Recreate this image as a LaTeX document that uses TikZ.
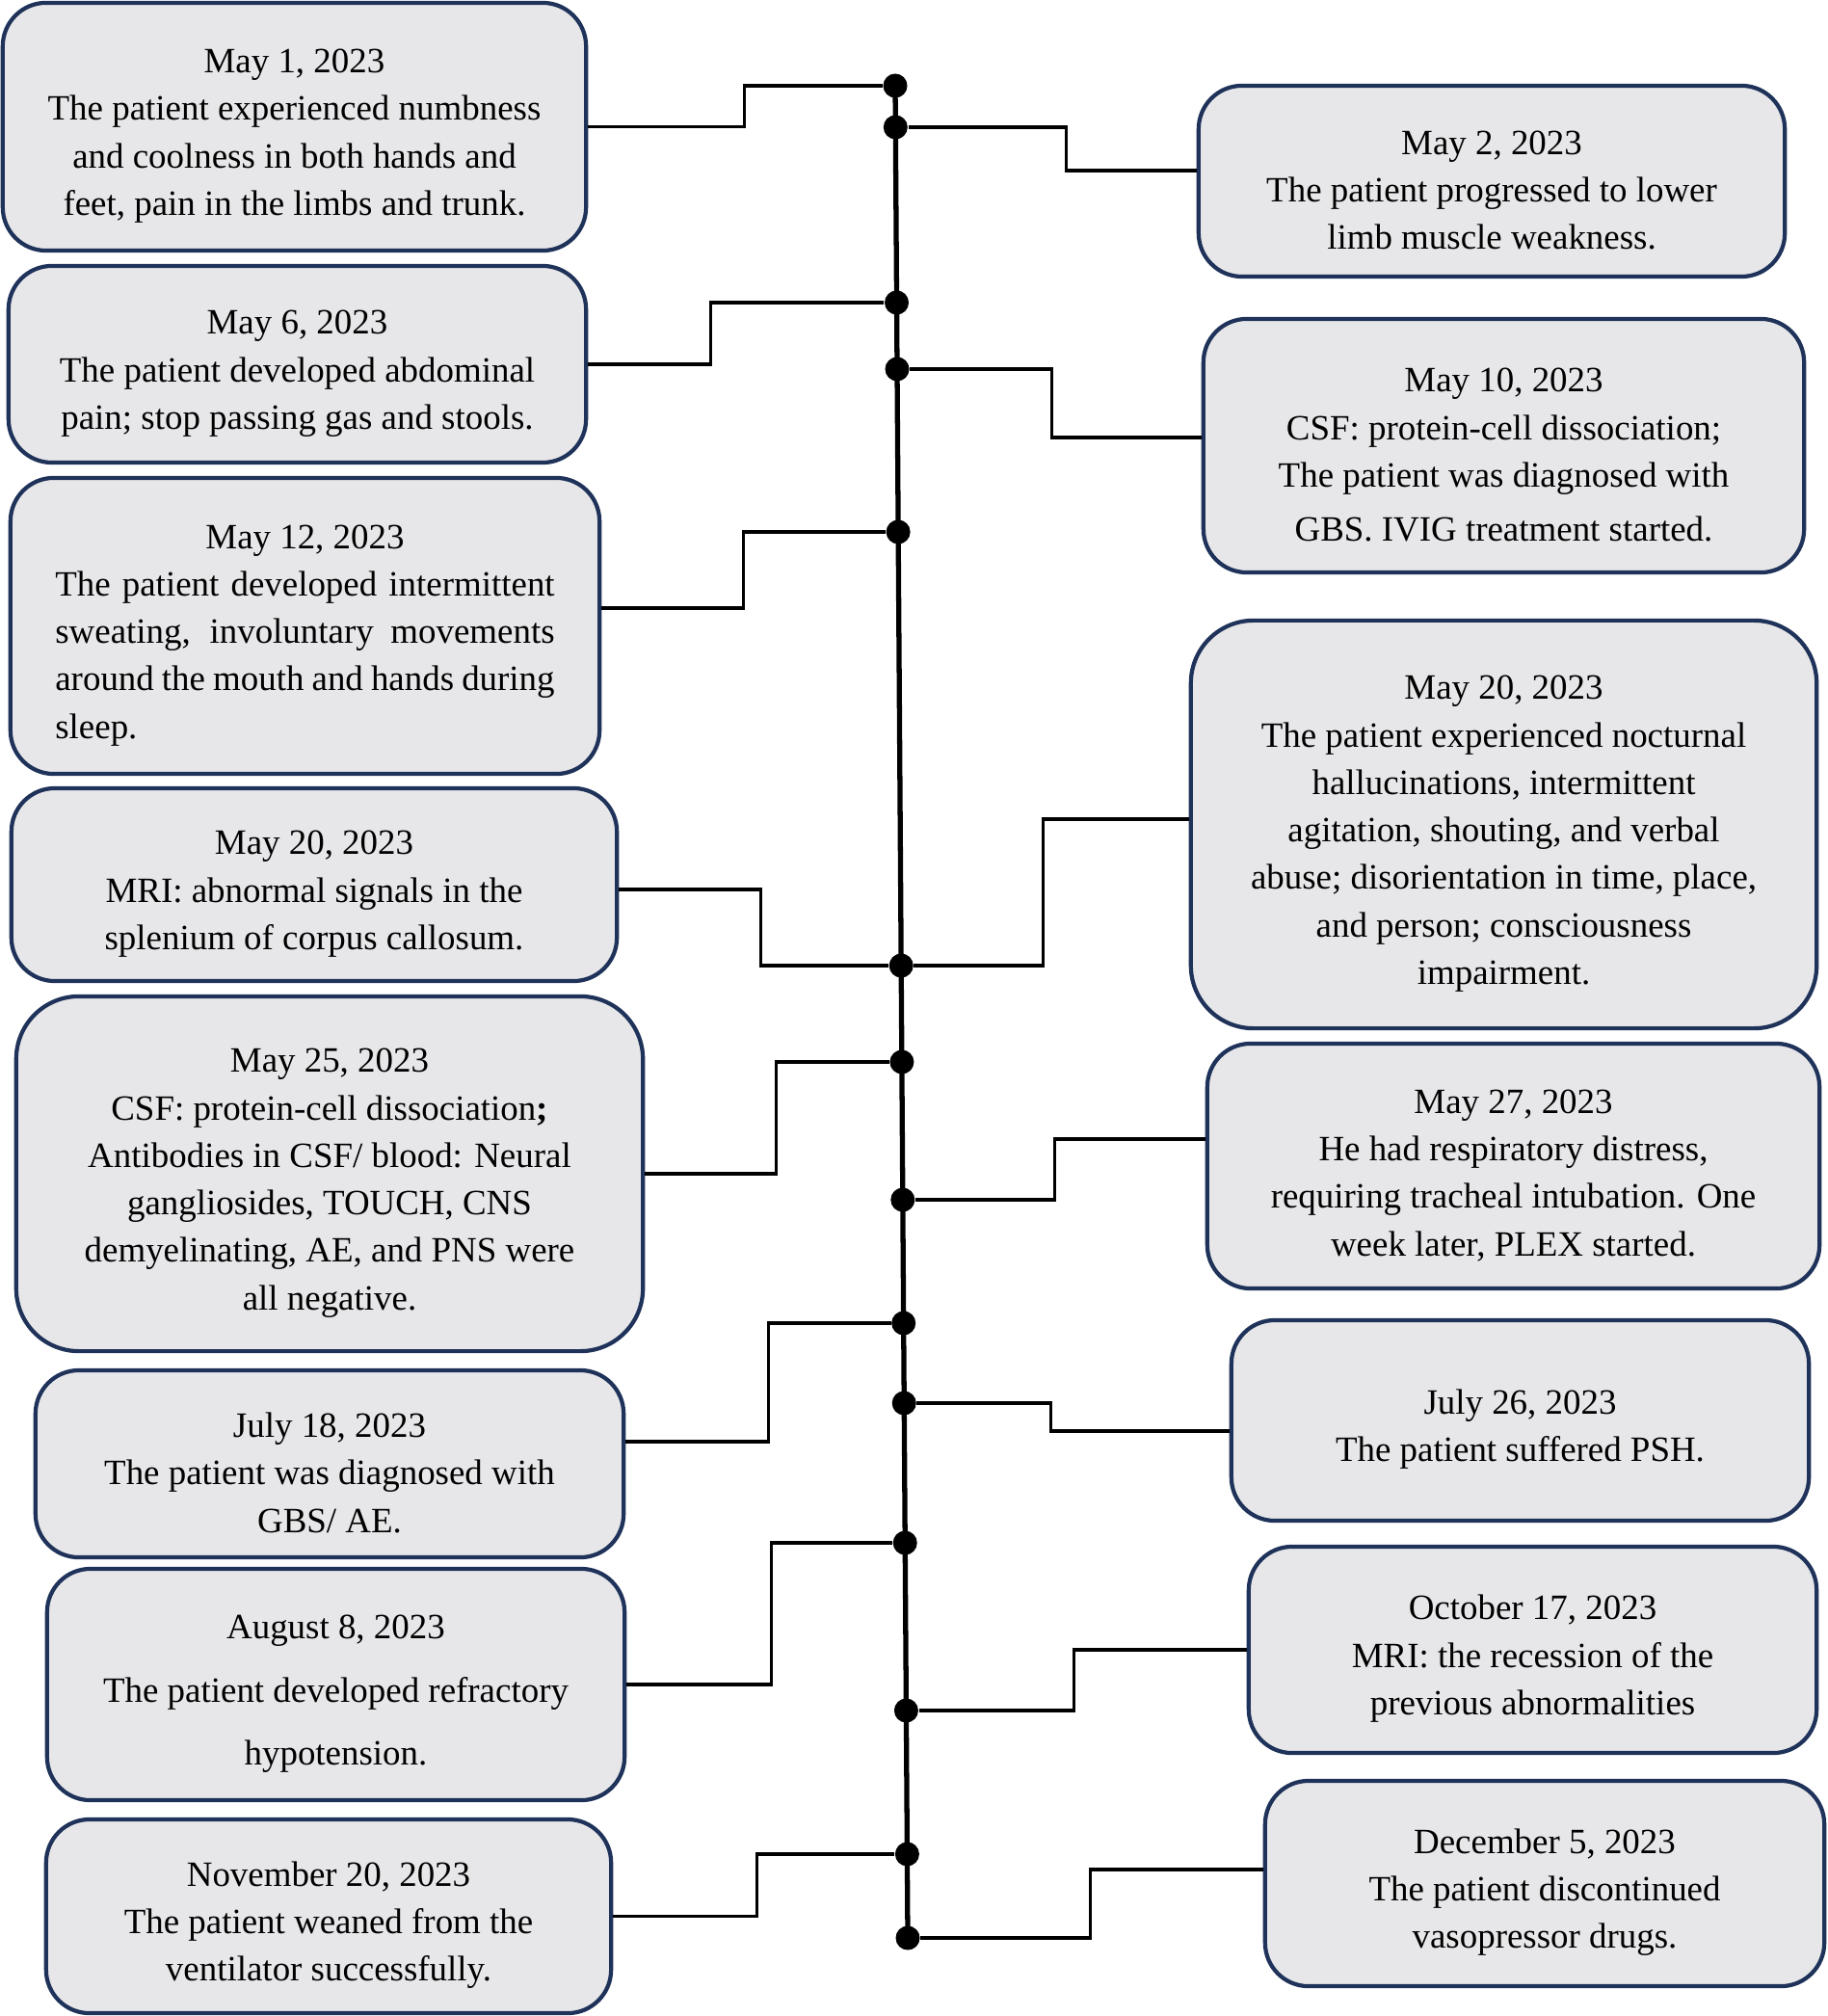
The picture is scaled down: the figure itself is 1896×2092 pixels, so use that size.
\documentclass[tikz,border=0pt]{standalone}
\usepackage{fontspec}
\setmainfont{Liberation Serif}
\usepackage{tikz}
\usetikzlibrary{positioning}
\definecolor{navy}{RGB}{31,50,89}
\definecolor{boxgray}{RGB}{231,231,233}
\newcommand{\topgap}{\rule{0pt}{0.44cm}}

\begin{document}
\begin{tikzpicture}[x=0.01cm,y=-0.01cm,
  font=\fontsize{10.5}{14}\selectfont,
  event/.style={draw=navy,fill=boxgray,rounded corners=0.45cm,line width=1.2pt,align=center,inner sep=0pt},
  dot/.style={circle,fill=black,inner sep=0pt,minimum size=0.25cm},
  link/.style={line width=0.95pt},
  spine/.style={line width=1.5pt}
]
  \useasboundingbox (0,0) rectangle (1896,2092);
  % left column
  \node[event,minimum width=6.05cm,minimum height=2.57cm] (may1) at (305.5,131.5) {\topgap May 1, 2023\\The patient experienced numbness\\and coolness in both hands and\\feet, pain in the limbs and trunk.};
  \node[event,minimum width=5.99cm,minimum height=2.04cm] (may6) at (308.5,378) {\topgap May 6, 2023\\The patient developed abdominal\\pain; stop passing gas and stools.};
  \node[event,minimum width=6.11cm,minimum height=3.07cm] (may12) at (316.5,649.5) {\topgap May 12, 2023\\\parbox[t]{5.18cm}{The patient developed intermittent\linebreak sweating, involuntary movements\linebreak around the mouth and hands during\linebreak sleep.}};
  \node[event,minimum width=6.28cm,minimum height=2.00cm] (mri) at (326,918) {\topgap May 20, 2023\\MRI: abnormal signals in the\\splenium of corpus callosum.};
  \node[event,rounded corners=0.65cm,minimum width=6.50cm,minimum height=3.68cm] (may25) at (342,1218) {\topgap May 25, 2023\\CSF: protein-cell dissociation\textbf{;}\\Antibodies in CSF/ blood: Neural\\gangliosides, TOUCH, CNS\\demyelinating, AE, and PNS were\\all negative.};
  \node[event,minimum width=6.10cm,minimum height=1.94cm] (jul18) at (342,1519) {\topgap July 18, 2023\\The patient was diagnosed with\\GBS/ AE.};
  \node[event,minimum width=5.99cm,minimum height=2.40cm] (aug8) at (348.5,1748) {\topgap August 8, 2023\\[4.5pt]The patient developed refractory\\[4.5pt]hypotension.};
  \node[event,minimum width=5.86cm,minimum height=2.01cm] (nov20) at (341,1988.5) {\topgap November 20, 2023\\The patient weaned from the\\ventilator successfully.};
  % right column
  \node[event,minimum width=6.08cm,minimum height=1.98cm] (may2) at (1548,188) {\topgap May 2, 2023\\The patient progressed to lower\\limb muscle weakness.};
  \node[event,minimum width=6.23cm,minimum height=2.63cm] (may10) at (1560.5,462.5) {\topgap May 10, 2023\\CSF: protein-cell dissociation;\\The patient was diagnosed with\\[2pt]GBS. IVIG treatment started.};
  \node[event,rounded corners=0.65cm,minimum width=6.49cm,minimum height=4.23cm] (may20) at (1560.5,855.5) {\topgap May 20, 2023\\The patient experienced nocturnal\\hallucinations, intermittent\\agitation, shouting, and verbal\\abuse; disorientation in time, place,\\and person; consciousness\\impairment.};
  \node[event,minimum width=6.35cm,minimum height=2.54cm] (may27) at (1570.5,1210) {\topgap May 27, 2023\\He had respiratory distress,\\requiring tracheal intubation. One\\week later, PLEX started.};
  \node[event,minimum width=5.99cm,minimum height=2.08cm] (jul26) at (1577.5,1474) {\topgap July 26, 2023\\The patient suffered PSH.};
  \node[event,minimum width=5.89cm,minimum height=2.14cm] (oct17) at (1590.5,1712) {\topgap October 17, 2023\\MRI: the recession of the\\previous abnormalities};
  \node[event,minimum width=5.80cm,minimum height=2.13cm] (dec5) at (1603,1954.5) {\topgap December 5, 2023\\The patient discontinued\\vasopressor drugs.};
  % timeline dots
  \node[dot] (d1) at (929.0,89) {};
  \node[dot] (d2) at (929.3,132) {};
  \node[dot] (d3) at (930.5,314) {};
  \node[dot] (d4) at (931.0,383) {};
  \node[dot] (d5) at (932.1,552) {};
  \node[dot] (d6) at (935.2,1002) {};
  \node[dot] (d7) at (935.9,1102) {};
  \node[dot] (d8) at (936.8,1245) {};
  \node[dot] (d9) at (937.7,1373) {};
  \node[dot] (d10) at (938.2,1456) {};
  \node[dot] (d11) at (939.2,1601) {};
  \node[dot] (d12) at (940.4,1775) {};
  \node[dot] (d13) at (941.4,1924) {};
  \node[dot] (d14) at (942.0,2011) {};
  \draw[spine] (d1.center) -- (d14.center);
  % connectors
  \draw[link] (may1.east) -- ++(162,0) |- (d1);
  \draw[link] ([yshift=0.11cm]may2.west) -- ++(-135,0) |- (d2);
  \draw[link] (may6.east) -- ++(127,0) |- (d3);
  \draw[link] ([yshift=0.085cm]may10.west) -- ++(-155,0) |- (d4);
  \draw[link] ([yshift=0.185cm]may12.east) -- ++(147,0) |- (d5);
  \draw[link] ([yshift=-0.05cm]mri.east) -- ++(147,0) |- (d6);
  \draw[link] ([yshift=0.055cm]may20.west) -- ++(-151,0) |- (d6);
  \draw[link] (may25.east) -- ++(136,0) |- (d7);
  \draw[link] ([yshift=0.28cm]may27.west) -- ++(-156,0) |- (d8);
  \draw[link] ([yshift=0.23cm]jul18.east) -- ++(148,0) |- (d9);
  \draw[link] ([yshift=-0.11cm]jul26.west) -- ++(-185,0) |- (d10);
  \draw[link] (aug8.east) -- ++(150,0) |- (d11);
  \draw[link] (oct17.west) -- ++(-179,0) |- (d12);
  \draw[link] (nov20.east) -- ++(149,0) |- (d13);
  \draw[link] ([yshift=0.145cm]dec5.west) -- ++(-179,0) |- (d14);
\end{tikzpicture}
\end{document}
